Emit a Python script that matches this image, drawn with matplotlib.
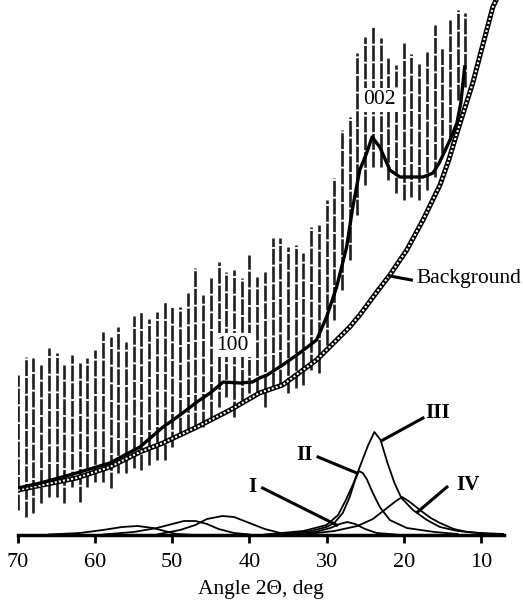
import matplotlib
matplotlib.use("Agg")
import matplotlib.pyplot as plt

plt.rcParams['font.family'] = ['Liberation Serif', 'DejaVu Serif']

# ---- data (intensity in arbitrary units) ----
bar_angle = [70, 69, 68, 67, 66, 65, 64, 63, 62, 61, 60, 59, 58, 57, 56, 55, 54, 53, 52, 51,
             50, 49, 48, 47, 46, 45, 44, 43, 42, 41, 40, 39, 38, 37, 36, 35, 34, 33, 32, 31,
             30, 29, 28, 27, 26, 25, 24, 23, 22, 21, 20, 19, 18, 17, 16, 15, 14, 13, 12]
bar_high = [160, 178, 177, 170, 187, 182, 170, 180, 172, 177, 185, 203, 198, 208, 193, 219, 223, 216, 223, 233,
            229, 228, 242, 267, 240, 257, 273, 263, 265, 257, 280, 258, 263, 297, 297, 288, 290, 282, 308, 310,
            335, 357, 405, 418, 482, 498, 508, 497, 478, 470, 492, 481, 471, 483, 510, 488, 515, 525, 522]
bar_low = [25, 18, 22, 32, 38, 38, 32, 48, 33, 48, 53, 53, 47, 62, 62, 67, 65, 70, 75, 75,
           88, 102, 105, 107, 108, 118, 128, 138, 118, 132, 142, 142, 128, 147, 150, 142, 147, 150, 165, 162,
           190, 215, 245, 275, 320, 350, 368, 368, 355, 342, 335, 338, 335, 345, 358, 382, 395, 435, 448]

smooth_angle = [70, 67.1, 62.4, 58.1, 54.2, 51.2, 49.0, 46.8, 45.1, 43.4, 41.2, 39.6, 38.7, 37.7, 35.7,
                33.5, 31.3, 30.0, 28.7, 27.4, 26.6, 25.7, 24.8, 24.1, 23.1, 21.8, 20.5, 18.8, 17.5,
                16.2, 15.4, 14.0, 13.1, 12.6, 12.1]
smooth_int = [47, 52, 62, 72, 88, 108, 120, 133, 142, 153, 152, 153, 157, 160, 170,
              182, 195, 218, 248, 288, 328, 365, 382, 398, 388, 365, 358, 358, 358,
              362, 372, 395, 412, 432, 468]

bg_angle = [70, 62.4, 58.1, 54.2, 51.2, 46.8, 42.5, 38.7, 35.7, 31.3, 27.0, 25.7, 23.1, 21.8,
            19.6, 17.5, 15.3, 14.2, 13.1, 11.05, 8.45, 7.4]
bg_int = [45, 57, 68, 83, 92, 108, 125, 142, 150, 175, 208, 220, 247, 260,
          285, 315, 350, 374, 402, 452, 528, 545]

peakI_angle = [35, 31.5, 29.5, 28.3, 27.3, 26.3, 25.0, 23.5, 21]
peakI_int = [0.5, 3, 7, 11, 13, 11, 6, 2, 0.5]

peakII_angle = [37, 32, 30, 29, 27.9, 27.0, 26.3, 25.8, 25.3, 24.8, 24.0, 23.1, 21.8, 19.6, 16, 13]
peakII_int = [0.5, 4, 8, 12, 22, 38, 55, 64, 62, 56, 42, 28, 15, 7, 3, 1]

peakIII_angle = [38, 33, 30, 28.5, 27.5, 26.5, 25.5, 24.6, 23.8, 23.0, 22.1, 21.2, 20.3, 18.8, 17.0,
                 15.3, 13, 10, 7]
peakIII_int = [0.5, 4, 10, 20, 35, 52, 72, 90, 103, 95, 72, 52, 37, 25, 15, 8, 4, 2, 1]

peakIV_angle = [33, 29, 26, 24, 22.5, 21, 20.2, 19.2, 17.9, 16.5, 15.3, 13.5, 11.8, 9]
peakIV_int = [0.5, 4, 9, 16, 25, 34, 38, 33, 25, 17, 12, 6, 3, 1]

peakA_angle = [66, 62, 59, 56.5, 54.5, 52.5, 51, 49.5, 47]
peakA_int = [0.5, 2, 5, 8, 9, 7, 4, 1, 0]

peakB_angle = [59, 55, 52, 50, 48.5, 47, 45.5, 44, 42, 40]
peakB_int = [0.5, 3, 7, 11, 14, 14, 11, 6, 2, 0.5]

peakC_angle = [52, 49, 47, 45.5, 43.5, 42.0, 40, 38, 36, 34]
peakC_int = [0.5, 5, 10, 16, 19, 18, 12, 6, 2, 0.5]

xticks = [70, 60, 50, 40, 30, 20, 10]
xticklabels = ['70', '60', '50', '40', '30', '20', '10']

# ---- figure ----
fig = plt.figure(figsize=(5.23, 6.01), dpi=100)
ax = fig.add_axes([18 / 523, 66 / 601, 486 / 523, 535 / 601])

# error bars
ax.vlines(bar_angle, bar_low, bar_high, colors='#1e1e1e', linewidth=1.9,
          linestyles=(0, (6, 0.7)), zorder=2)

# background (rope-like double line)
ax.plot(bg_angle, bg_int, color='black', lw=3.6, zorder=3, solid_capstyle='butt')
ax.plot(bg_angle, bg_int, color='white', lw=1.5, ls=(0, (1, 1)), zorder=4)

# smoothed pattern
ax.plot(smooth_angle, smooth_int, color='black', lw=2.4, zorder=5)

# deconvoluted peaks
for a, v in [(peakA_angle, peakA_int), (peakB_angle, peakB_int), (peakC_angle, peakC_int),
             (peakI_angle, peakI_int), (peakII_angle, peakII_int),
             (peakIII_angle, peakIII_int), (peakIV_angle, peakIV_int)]:
    ax.plot(a, v, color='black', lw=1.3, zorder=3)

# labels
box = dict(facecolor='white', edgecolor='none', pad=2)
ax.text(23.1, 435, '002', fontsize=15.5, ha='center', va='center', bbox=box, zorder=6)
ax.text(42.2, 190, '100', fontsize=15.5, ha='center', va='center', bbox=box, zorder=6)
ax.text(18.3, 257, 'Background', fontsize=15.5, ha='left', va='center', zorder=6)
ax.plot([21.8, 19.0], [259, 255], color='black', lw=2.2, zorder=6)

for lab, tx, ty, x0, y0, x1, y1 in [('I', 39.6, 48, 38.3, 47, 28.7, 10),
                                    ('II', 32.8, 80, 31.1, 78, 26.1, 62),
                                    ('III', 15.6, 122, 17.5, 117, 22.7, 95),
                                    ('IV', 11.7, 50, 14.4, 48, 18.2, 23)]:
    ax.text(tx, ty, lab, fontsize=15, fontweight='bold', ha='center', va='center', zorder=6)
    ax.plot([x0, x1], [y0, y1], color='black', lw=2.2, zorder=6)

ax.set_xlim(70, 7)
ax.set_ylim(0, 535)
for s in ['top', 'left', 'right']:
    ax.spines[s].set_visible(False)
ax.spines['bottom'].set_linewidth(2.5)
ax.set_yticks([])
ax.set_xticks(xticks)
ax.set_xticklabels(xticklabels, fontsize=16)
ax.tick_params(axis='x', direction='out', length=6, width=2, pad=7)
ax.set_xlabel('Angle 2\u0398, deg', fontsize=15.5, labelpad=6)

fig.savefig('out.png', dpi=100)
